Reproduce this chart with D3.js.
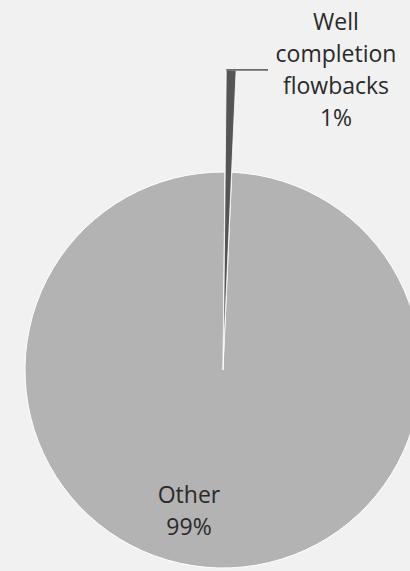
<!DOCTYPE html>
<html>
<head>
<meta charset="utf-8">
<script src="https://cdn.jsdelivr.net/npm/d3@7"></script>
<style>
  html, body { margin: 0; padding: 0; background: #f1f1f1; }
  svg { display: block; }
</style>
</head>
<body>
<script>
// Methane emission sources, share of total (%)
const categories = ["Well completion flowbacks", "Other"];
const shares = [0.55, 99.45];
const labelLines = [["Well", "completion", "flowbacks"], ["Other"]];

const W = 410, H = 571;
const cx = 223, cy = 370, radius = 198;
const explodeDist = 13;          // pull-out of the highlighted slice
const explodeScale = 1.45;       // highlighted slice drawn longer than the pie
const fontFamily = "'Open Sans', 'Noto Sans', sans-serif";

const svg = d3.select("body").append("svg")
  .attr("width", W).attr("height", H);

svg.append("rect").attr("width", W).attr("height", H).attr("fill", "#f1f1f1");

const data = categories.map((c, i) => ({ name: c, value: shares[i], lines: labelLines[i] }));

const pie = d3.pie().sort(null).value(d => d.value)
  .startAngle(0.01).endAngle(0.01 + 2 * Math.PI);
const arcs = pie(data);

const g = svg.append("g").attr("transform", `translate(${cx},${cy})`);

// Main slice
const arcMain = d3.arc().innerRadius(0).outerRadius(radius);
g.append("path")
  .attr("d", arcMain(arcs[1]))
  .attr("fill", "#b3b3b3")
  .attr("stroke", "#ffffff")
  .attr("stroke-width", 1);

// Exploded slice
const hl = arcs[0];
const mid = (hl.startAngle + hl.endAngle) / 2;
const ox = explodeDist * Math.sin(mid), oy = -explodeDist * Math.cos(mid);
const outerR = radius * explodeScale;
const arcHl = d3.arc().innerRadius(0).outerRadius(outerR);

const defs = svg.append("defs");
const grad = defs.append("linearGradient")
  .attr("id", "hlGrad")
  .attr("gradientUnits", "userSpaceOnUse")
  .attr("x1", cx + ox).attr("y1", cy + oy)
  .attr("x2", cx + ox + outerR * Math.sin(mid)).attr("y2", cy + oy - outerR * Math.cos(mid));
grad.append("stop").attr("offset", 0).attr("stop-color", "#d6d6d6");
grad.append("stop").attr("offset", 0.3).attr("stop-color", "#9a9a9a");
grad.append("stop").attr("offset", 0.55).attr("stop-color", "#6e6e6e");
grad.append("stop").attr("offset", 1).attr("stop-color", "#555555");

const hlG = g.append("g").attr("transform", `translate(${ox},${oy})`);
hlG.append("path")
  .attr("d", arcHl(hl))
  .attr("fill", "url(#hlGrad)")
  .attr("stroke", "#ffffff")
  .attr("stroke-width", 0.8);

// Leader line from the tip of the exploded slice to its label
const tipX = cx + ox + outerR * Math.sin(hl.startAngle);
const tipY = cy + oy - outerR * Math.cos(hl.startAngle);
svg.append("line")
  .attr("x1", tipX).attr("y1", tipY)
  .attr("x2", 268).attr("y2", tipY)
  .attr("stroke", "#6a6a6a").attr("stroke-width", 1.6);

// Labels
const fmt = v => Math.round(v) + "%";
const labelPos = [
  { x: 336, y: 30 },
  { x: 189, y: 503 }
];
const lineH = 32;
data.forEach((d, i) => {
  const t = svg.append("text")
    .attr("x", labelPos[i].x).attr("y", labelPos[i].y)
    .attr("text-anchor", "middle")
    .attr("font-family", fontFamily)
    .attr("font-size", 23)
    .attr("fill", "#2a2a2a");
  const lines = d.lines.concat([fmt(d.value)]);
  lines.forEach((ln, j) => {
    t.append("tspan")
      .attr("x", labelPos[i].x)
      .attr("dy", j === 0 ? 0 : lineH)
      .text(ln);
  });
});
</script>
</body>
</html>
